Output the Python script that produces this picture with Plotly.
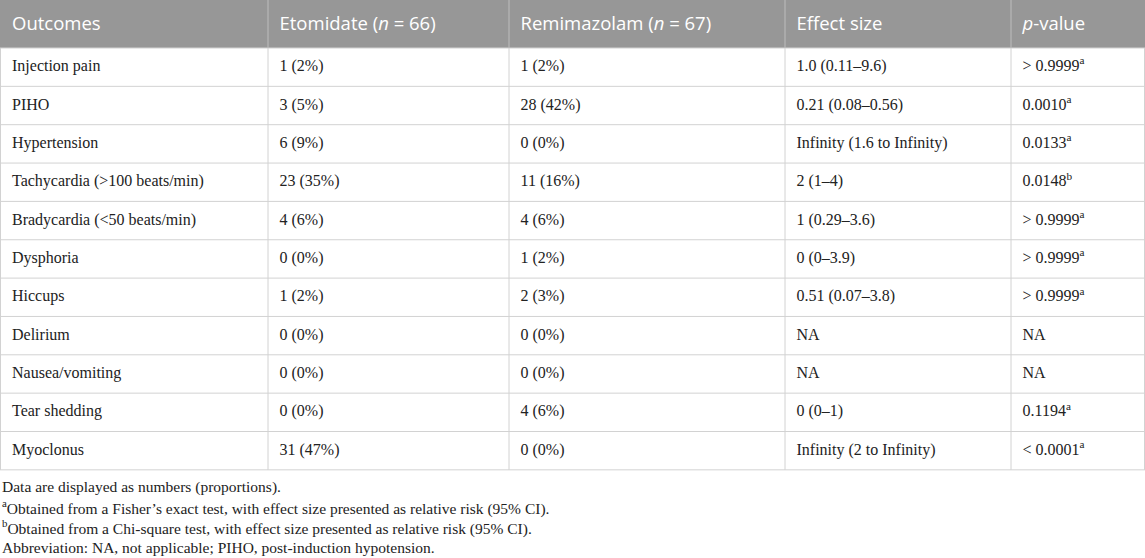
import plotly.graph_objects as go

W, H = 1145, 558

headers = ['Outcomes', 'Etomidate (<i>n</i> = 66)', 'Remimazolam (<i>n</i> = 67)',
           'Effect size', '<i>p</i>-value']

outcomes = ['Injection pain', 'PIHO', 'Hypertension', 'Tachycardia (>100 beats/min)',
            'Bradycardia (<50 beats/min)', 'Dysphoria', 'Hiccups', 'Delirium',
            'Nausea/vomiting', 'Tear shedding', 'Myoclonus']
etomidate = ['1 (2%)', '3 (5%)', '6 (9%)', '23 (35%)', '4 (6%)', '0 (0%)', '1 (2%)',
             '0 (0%)', '0 (0%)', '0 (0%)', '31 (47%)']
remimazolam = ['1 (2%)', '28 (42%)', '0 (0%)', '11 (16%)', '4 (6%)', '1 (2%)', '2 (3%)',
               '0 (0%)', '0 (0%)', '4 (6%)', '0 (0%)']
effect_size = ['1.0 (0.11–9.6)', '0.21 (0.08–0.56)', 'Infinity (1.6 to Infinity)', '2 (1–4)',
               '1 (0.29–3.6)', '0 (0–3.9)', '0.51 (0.07–3.8)', 'NA', 'NA', '0 (0–1)',
               'Infinity (2 to Infinity)']
p_values = ['> 0.9999<sup>a</sup>', '0.0010<sup>a</sup>', '0.0133<sup>a</sup>',
            '0.0148<sup>b</sup>', '> 0.9999<sup>a</sup>', '> 0.9999<sup>a</sup>',
            '> 0.9999<sup>a</sup>', 'NA', 'NA', '0.1194<sup>a</sup>', '< 0.0001<sup>a</sup>']

footnotes = ['Data are displayed as numbers (proportions).',
             '<sup>a</sup>Obtained from a Fisher’s exact test, with effect size presented as relative risk (95% CI).',
             '<sup>b</sup>Obtained from a Chi-square test, with effect size presented as relative risk (95% CI).',
             'Abbreviation: NA, not applicable; PIHO, post-induction hypotension.']

columns = [outcomes, etomidate, remimazolam, effect_size, p_values]

# layout of the table, in pixels (axes are set up 1 unit = 1 px)
col_x = [0.5, 268, 509, 785, 1011, W - 0.5]
header_h = 48
row_h = 38.35
pad = 11.5
n_rows = len(outcomes)
row_edges = [header_h + i * row_h for i in range(n_rows + 1)]
row_mid = [header_h + (i + 0.5) * row_h for i in range(n_rows)]
table_bottom = row_edges[-1]

body_font = dict(family='Liberation Serif', size=16, color='#222222')
head_font = dict(family='Open Sans', size=18.5, color='white')

fig = go.Figure()

# header band
fig.add_shape(type='rect', x0=0, x1=W, y0=0, y1=header_h, fillcolor='#979797',
              line=dict(width=0), layer='below')

# horizontal rules
for y in row_edges:
    fig.add_shape(type='line', x0=0, x1=W, y0=y, y1=y,
                  line=dict(color='#d2d2d2', width=1))
# vertical rules: lighter inside the header, grey in the body
for j, x in enumerate(col_x):
    if 0 < j < len(col_x) - 1:
        fig.add_shape(type='line', x0=x, x1=x, y0=0, y1=header_h,
                      line=dict(color='#bdbdbd', width=1))
    fig.add_shape(type='line', x0=x, x1=x, y0=header_h, y1=table_bottom,
                  line=dict(color='#d2d2d2', width=1))

# header text
fig.add_trace(go.Scatter(x=[x + pad for x in col_x[:-1]], y=[header_h / 2 + 1] * len(headers),
                         text=headers, mode='text', textposition='middle right',
                         textfont=head_font, hoverinfo='skip', cliponaxis=False))

# cell text, one trace per column
for j, col in enumerate(columns):
    fig.add_trace(go.Scatter(x=[col_x[j] + pad] * n_rows, y=row_mid, text=col,
                             mode='text', textposition='middle right',
                             textfont=body_font, hoverinfo='skip', cliponaxis=False))

for i, txt in enumerate(footnotes):
    fig.add_annotation(text=txt, x=0, xref='x', xanchor='left',
                       y=table_bottom + 17 + 20.3 * i, yref='y', yanchor='middle',
                       showarrow=False,
                       font=dict(family='Liberation Serif', size=15.5, color='#222222'))

fig.update_xaxes(range=[0, W], visible=False, fixedrange=True)
fig.update_yaxes(range=[H, 0], visible=False, fixedrange=True)
fig.update_layout(width=W, height=H, margin=dict(l=0, r=0, t=0, b=0),
                  paper_bgcolor='white', plot_bgcolor='white', showlegend=False)
fig.write_html('out.html', config={'displayModeBar': False},
               post_script="document.body.style.margin='0';")
